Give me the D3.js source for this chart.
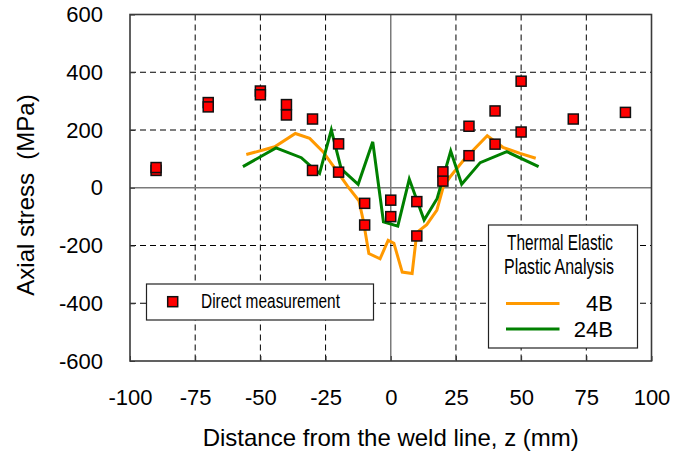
<!DOCTYPE html>
<html>
<head>
<meta charset="utf-8">
<script src="https://cdn.jsdelivr.net/npm/d3@7"></script>
<style>
  html, body { margin: 0; padding: 0; background: #fff; }
  svg { display: block; }
  text { font-family: "Liberation Sans", Arial, sans-serif; fill: #000; }
  .narrow { font-family: "Liberation Sans Narrow", "Arial Narrow", "Liberation Sans", sans-serif; }
</style>
</head>
<body>
<svg id="chart" width="675" height="461"></svg>
<script>
// Axis ticks
const xTicks = [-100, -75, -50, -25, 0, 25, 50, 75, 100];
const yTicks = [-600, -400, -200, 0, 200, 400, 600];

// Direct measurement: [z (mm), axial stress (MPa)]
const measured = [
  [-90, 60], [-90, 70], [-70, 295], [-70, 280], [-50, 335], [-50, 322],
  [-40, 288], [-40, 252], [-30, 238], [-30, 60], [-20, 152], [-20, 54],
  [-10, -54], [-10, -129], [0, -43], [0, -100], [10, -48], [10, -167],
  [20, 55], [20, 23], [30, 213], [30, 111], [40, 266], [40, 151],
  [50, 369], [50, 193], [70, 238], [90, 261]
];

// Thermal elastic plastic analysis, 4B
const fem4B = [
  [-55.4, 115], [-44.5, 142], [-36.6, 188], [-31.1, 171], [-26, 125],
  [-21.8, 72], [-16.5, 5], [-12.2, -45], [-10.5, -115], [-8.4, -228],
  [-4.1, -246], [-1, -182], [1.2, -192], [4.4, -292], [8.2, -297],
  [10, -155], [13.8, -128], [17.7, -77], [20.2, 5], [22.8, 38],
  [28, 96], [37, 180], [43, 140], [49.6, 119], [55.6, 102]
];

// Thermal elastic plastic analysis, 24B
const fem24B = [
  [-56.7, 73], [-44, 138], [-34.3, 104], [-30.5, 73], [-27.3, 50],
  [-22.8, 200], [-19, 65], [-12.5, 12], [-6.9, 159], [-2.8, -118],
  [2.7, -133], [7.1, 30], [12.8, -112], [17.8, -37], [23, 127],
  [27.2, 12], [34.3, 87], [44.5, 125], [56.7, 73]
];

const svg = d3.select("#chart");
const plotLeft = 130, plotRight = 651.5, plotTop = 14.5, plotBottom = 361;

const x = d3.scaleLinear().domain([-100, 100]).range([plotLeft, plotRight]);
const y = d3.scaleLinear().domain([-600, 600]).range([plotBottom, plotTop]);

// Gridlines: dashed, with the zero lines solid grey
const grid = svg.append("g");
grid.selectAll("line.vx")
  .data(xTicks.filter(v => v > -100 && v < 100))
  .join("line")
  .attr("x1", d => x(d)).attr("x2", d => x(d))
  .attr("y1", plotTop).attr("y2", plotBottom)
  .attr("stroke", d => d === 0 ? "#7a7a7a" : "#000")
  .attr("stroke-width", d => d === 0 ? 1.5 : 1)
  .attr("stroke-dasharray", d => d === 0 ? null : "6,4");
grid.selectAll("line.hy")
  .data(yTicks.filter(v => v > -600 && v < 600))
  .join("line")
  .attr("x1", plotLeft).attr("x2", plotRight)
  .attr("y1", d => y(d)).attr("y2", d => y(d))
  .attr("stroke", d => d === 0 ? "#7a7a7a" : "#000")
  .attr("stroke-width", d => d === 0 ? 1.5 : 1)
  .attr("stroke-dasharray", d => d === 0 ? null : "6,4");

// Axes with short inward ticks
const xAxis = svg.append("g")
  .attr("transform", `translate(0,${plotBottom})`)
  .call(d3.axisBottom(x).tickValues(xTicks).tickSize(-5).tickPadding(28.5).tickFormat(d => String(d)));
const yAxis = svg.append("g")
  .attr("transform", `translate(${plotLeft},0)`)
  .call(d3.axisLeft(y).tickValues(yTicks).tickSize(-5).tickPadding(27).tickFormat(d => String(d)));
[xAxis, yAxis].forEach(g => {
  g.select(".domain").remove();
  g.selectAll(".tick line").attr("stroke", "#333").attr("stroke-width", 1);
  g.selectAll(".tick text").attr("font-size", 22)
    .attr("font-family", "'Liberation Sans', Arial, sans-serif").attr("fill", "#000");
});

// Analysis curves
const line = d3.line().x(d => x(d[0])).y(d => y(d[1]));
svg.append("path").datum(fem4B)
  .attr("d", line).attr("fill", "none")
  .attr("stroke", "#FF9900").attr("stroke-width", 3).attr("stroke-linejoin", "miter");
svg.append("path").datum(fem24B)
  .attr("d", line).attr("fill", "none")
  .attr("stroke", "#008000").attr("stroke-width", 3).attr("stroke-linejoin", "miter");

// Measured points
const ms = 10;
svg.append("g").selectAll("rect")
  .data(measured)
  .join("rect")
  .attr("x", d => x(d[0]) - ms / 2)
  .attr("y", d => y(d[1]) - ms / 2)
  .attr("width", ms).attr("height", ms)
  .attr("fill", "#FF0000").attr("stroke", "#111").attr("stroke-width", 1.5);

// Plot frame
svg.append("rect")
  .attr("x", plotLeft).attr("y", plotTop)
  .attr("width", plotRight - plotLeft).attr("height", plotBottom - plotTop)
  .attr("fill", "none").attr("stroke", "#3a3a3a").attr("stroke-width", 1.6);

// Legend: measurement
const lg1 = svg.append("g");
lg1.append("rect").attr("x", 146.5).attr("y", 284).attr("width", 227).attr("height", 36)
  .attr("fill", "#fff").attr("stroke", "#222").attr("stroke-width", 1.2);
lg1.append("rect").attr("x", 172.7 - ms / 2).attr("y", 301.7 - ms / 2)
  .attr("width", ms).attr("height", ms)
  .attr("fill", "#FF0000").attr("stroke", "#111").attr("stroke-width", 1.5);
lg1.append("text").attr("class", "narrow")
  .attr("x", 201).attr("y", 307.5).attr("font-size", 20.5)
  .attr("textLength", 139).attr("lengthAdjust", "spacingAndGlyphs")
  .text("Direct measurement");

// Legend: analysis
const lg2 = svg.append("g");
lg2.append("rect").attr("x", 488.5).attr("y", 225).attr("width", 149).attr("height", 123)
  .attr("fill", "#fff").attr("stroke", "#222").attr("stroke-width", 1.2);
lg2.append("text").attr("class", "narrow")
  .attr("x", 507).attr("y", 249.5).attr("font-size", 22)
  .attr("textLength", 106).attr("lengthAdjust", "spacingAndGlyphs")
  .text("Thermal Elastic");
lg2.append("text").attr("class", "narrow")
  .attr("x", 504).attr("y", 274).attr("font-size", 22)
  .attr("textLength", 110).attr("lengthAdjust", "spacingAndGlyphs")
  .text("Plastic Analysis");
const series = [
  { name: "4B", color: "#FF9900", y: 303.5 },
  { name: "24B", color: "#008000", y: 329 }
];
series.forEach(s => {
  lg2.append("line").attr("x1", 506).attr("x2", 559.5).attr("y1", s.y).attr("y2", s.y)
    .attr("stroke", s.color).attr("stroke-width", 3);
  lg2.append("text").attr("x", 613).attr("y", s.y + 7.5).attr("font-size", 22)
    .attr("text-anchor", "end").text(s.name);
});

// Axis titles
svg.append("text")
  .attr("x", (plotLeft + plotRight) / 2).attr("y", 446)
  .attr("text-anchor", "middle").attr("font-size", 24)
  .text("Distance from the weld line, z (mm)");
svg.append("text")
  .attr("transform", "translate(33.5,195) rotate(-90)")
  .attr("text-anchor", "middle").attr("font-size", 24)
  .style("white-space", "pre")
  .text("Axial stress  (MPa)");
</script>
</body>
</html>
